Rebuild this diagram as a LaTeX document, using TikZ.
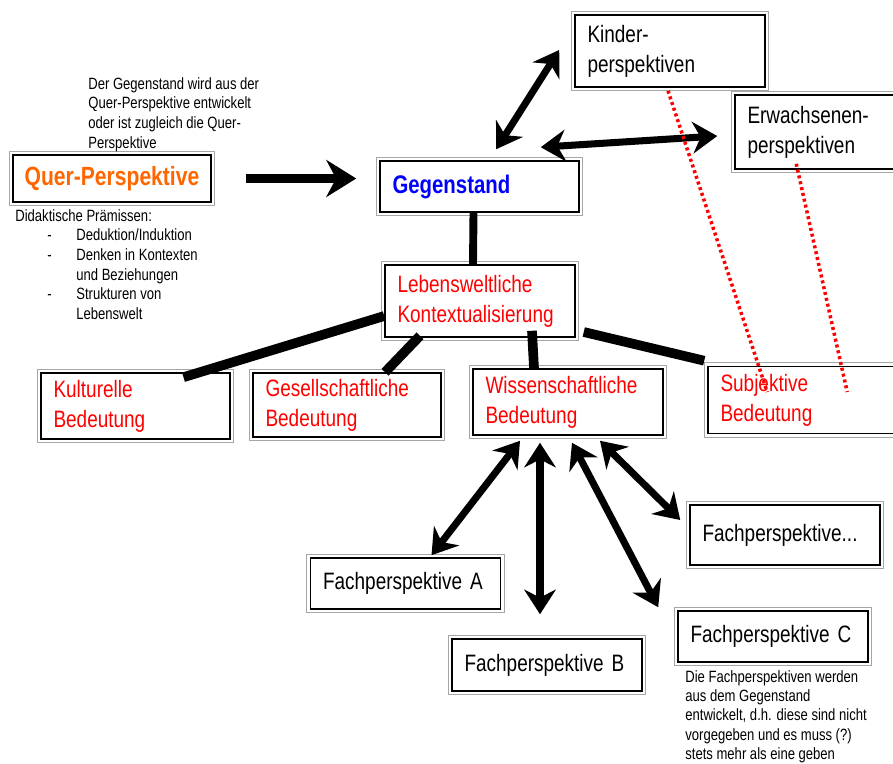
\documentclass[tikz,border=0pt]{standalone}
\usepackage{fontspec}
\setsansfont{Liberation Sans}[FakeStretch=0.8]
\usepackage{xcolor}
\usepackage{tikz}
\usetikzlibrary{
    arrows.meta,
    positioning,
    calc
}
\definecolor{querorange}{RGB}{255,102,0}
\definecolor{lwred}{RGB}{255,0,0}
\definecolor{gsblue}{RGB}{0,0,255}
\tikzstyle{pbox} = [
    rectangle, draw=black,
    line width=0.9pt,
    fill=white,
    inner xsep=0.25cm,
    inner ysep=0pt,
    text width=3.3cm,
    align=left,
    append after command={\pgfextra{
        \draw[gray!70, line width=0.8pt]
            ([shift={(-1.7pt,1.7pt)}]\tikzlastnode.north west) rectangle
            ([shift={(1.7pt,-1.7pt)}]\tikzlastnode.south east);}}
]
\tikzstyle{dblarrow} = [
    line width=4pt,
    {Stealth[length=14pt,width=18pt]}-{Stealth[length=14pt,width=18pt]}
]
\tikzstyle{bigarrow} = [
    line width=5.5pt,
    -{Stealth[length=17pt,width=21pt]}
]

\begin{document}
\begin{tikzpicture}[
    x=0.02cm, y=-0.02cm,
    font=\sffamily\fontsize{13.5}{17}\selectfont,
    link/.style={line width=5.5pt},
    guide/.style={draw=lwred, line width=2pt, dash pattern=on 1.7pt off 1.7pt},
    note/.style={
        font=\sffamily\fontsize{9.3}{11.2}\selectfont,
        inner sep=0pt,
        align=left,
        anchor=north west
    }
]
\useasboundingbox (0,0) rectangle (893,764);

% Perspektiven
\node[pbox, minimum height=1.44cm] (kinder) at (670,51) {Kinder-\\perspektiven};
\node[pbox, text width=3.4cm, minimum height=1.48cm] (erw) at (832.5,132) {Erwachsenen-\\perspektiven};

% Gegenstand und Quer-Perspektive
\node[pbox, text width=3.48cm, minimum height=1.02cm, text=gsblue,
    font=\sffamily\bfseries\fontsize{14.5}{17}\selectfont] (gegen) at (479.5,186.5) {Gegenstand};
\node[pbox, inner xsep=0.1cm, text width=3.76cm, minimum height=0.94cm, align=center, text=querorange,
    font=\sffamily\bfseries\fontsize{15}{17}\selectfont] (quer) at (112,178.5) {Quer-Perspektive};

% Lebenswelt
\node[pbox, minimum height=1.44cm, text=lwred] (leben) at (480,301) {Lebensweltliche\\Kontextualisierung};

% Bedeutungen
\node[pbox, text width=3.28cm, minimum height=1.32cm, text=lwred] (kultur) at (135.5,406) {Kulturelle\\Bedeutung};
\node[pbox, text width=3.26cm, minimum height=1.28cm, text=lwred] (gesell) at (347,405) {Gesellschaftliche\\Bedeutung};
\node[pbox, minimum height=1.32cm, text=lwred] (wiss) at (568,402) {Wissenschaftliche\\Bedeutung};
\node[pbox, text width=3.94cm, minimum height=1.34cm, text=lwred] (subj) at (819,400) {Subjektive\\Bedeutung};

% Fachperspektiven
\node[pbox, minimum height=1.02cm] (fachA) at (405.5,583.5) {Fachperspektive A};
\node[pbox, minimum height=1.04cm] (fachB) at (547,665) {Fachperspektive B};
\node[pbox, minimum height=1.02cm] (fachC) at (773,636.5) {Fachperspektive C};
\node[pbox, minimum height=1.2cm] (fachX) at (785,535) {Fachperspektive...};

% Anmerkungen
\node[note] (querinfo) at (88,77) {Der Gegenstand wird aus der\\Quer-Perspektive entwickelt\\oder ist zugleich die Quer-\\Perspektive};
\node[note] (praemissen) at (15,207) {%
    \begin{tabular}{@{}p{1.22cm}@{}l@{}}
        \multicolumn{2}{@{}l@{}}{Didaktische Prämissen:}\\
        \hspace*{0.64cm}- & Deduktion/Induktion\\
        \hspace*{0.64cm}- & Denken in Kontexten\\
                          & und Beziehungen\\
        \hspace*{0.64cm}- & Strukturen von\\
                          & Lebenswelt
    \end{tabular}};
\node[note, font=\sffamily\fontsize{9.3}{11}\selectfont] (fachinfo) at (685,670) {Die Fachperspektiven werden\\aus dem Gegenstand\\entwickelt, d.h. diese sind nicht\\vorgegeben und es muss (?)\\stets mehr als eine geben};

% Verbindungen
\draw[bigarrow, shorten <=0.68cm, shorten >=0.46cm] (quer.east) -- (quer.east -| gegen.west);
\draw[dblarrow] ($(gegen.north west)+(117,-11)$) -- ($(kinder.west)+(-15,-1)$);
\draw[dblarrow] ($(gegen.north east)+(-39,-13)$) -- ($(erw.west)+(-17,4)$);
\draw[link, line width=4.5pt] ($(gegen.south)+(-6,0)$) -- ($(leben.north)+(-7,0)$);
\draw[link] ($(leben.west)+(0,15)$) -- ($(kultur.north)+(48,5)$);
\draw[link] ($(leben.south)+(-60,-2)$) -- ($(gesell.north)+(38,0)$);
\draw[link] ($(leben.south)+(52,-7)$) -- ($(wiss.north)+(-34,0)$);
\draw[link] ($(leben.east)+(8,31)$) -- ($(subj.north west)+(-3,-5)$);

% Fachperspektiven anbinden
\draw[dblarrow] ($(wiss.south)+(-48,5)$) -- ($(fachA.north)+(26,-2)$);
\draw[dblarrow] ($(wiss.south)+(-28,7)$) -- ($(fachB.north)+(-7,-24)$);
\draw[dblarrow] ($(wiss.south)+(4,7)$) -- ($(fachC.north west)+(-19,-3)$);
\draw[dblarrow] ($(wiss.south)+(32,5)$) -- ($(fachX.west)+(-9,-15)$);

% rote Hilfslinien
\draw[guide] ($(kinder.south)+(-2,3)$) -- ($(subj.west)+(60,-8)$);
\draw[guide] ($(erw.south west)+(62,-6)$) -- ($(subj.west)+(140,-8)$);

\end{tikzpicture}
\end{document}
